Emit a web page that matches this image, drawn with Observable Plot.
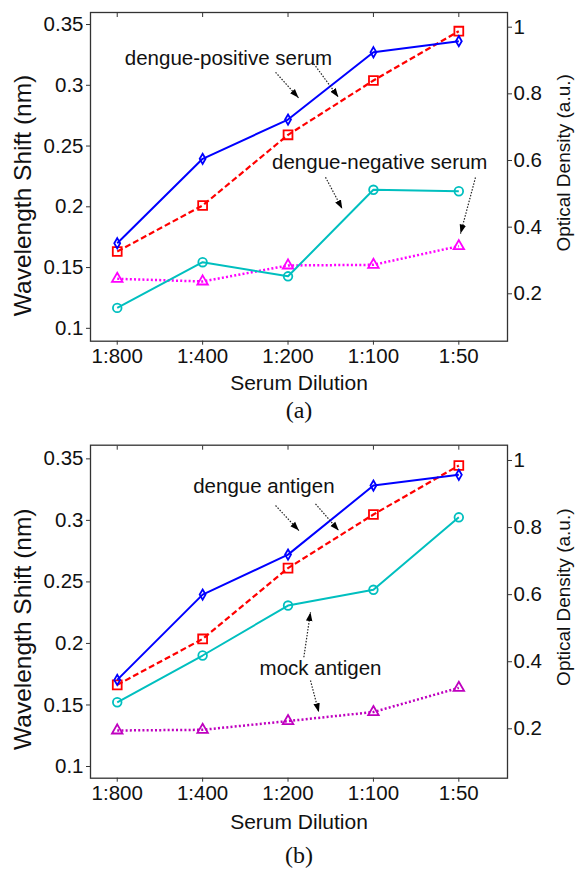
<!DOCTYPE html>
<html><head><meta charset="utf-8">
<script src="https://cdn.jsdelivr.net/npm/d3@7"></script>
<script src="https://cdn.jsdelivr.net/npm/@observablehq/plot@0.6"></script>
<style>
body{margin:0;background:#fff}
#chart svg{display:block}
</style>
</head><body><div id="chart"></div>
<script>
// ---- data ----
const dilutions = ["1:800", "1:400", "1:200", "1:100", "1:50"];
const shiftTicks = [0.1, 0.15, 0.2, 0.25, 0.3, 0.35];
const odTicks = [0.2, 0.4, 0.6, 0.8, 1];

// panel (a): serum
const aPositiveShift = [0.170, 0.2395, 0.2718, 0.3272, 0.3363];
const aNegativeShift = [0.1168, 0.1544, 0.1428, 0.2140, 0.2128];
const aPositiveOD = [0.327, 0.465, 0.677, 0.840, 0.988];
const aNegativeOD = [0.245, 0.237, 0.285, 0.287, 0.343];

// panel (b): antigen
const bDengueShift = [0.1704, 0.2397, 0.2722, 0.3283, 0.3370];
const bMockShift = [0.1522, 0.1902, 0.2308, 0.2436, 0.3025];
const bDengueOD = [0.331, 0.468, 0.679, 0.839, 0.985];
const bMockOD = [0.195, 0.197, 0.223, 0.250, 0.322];

// annotation labels
const aLabels = ["dengue-positive serum", "dengue-negative serum"];
const bLabels = ["dengue antigen", "mock antigen"];

// ---- helpers ----
const FONT = "Liberation Sans, Arial, Helvetica, sans-serif";
function filledArrow(color) {
  const ns = "http://www.w3.org/2000/svg";
  const m = document.createElementNS(ns, "marker");
  m.setAttribute("viewBox", "-10 -5 10 10");
  m.setAttribute("markerWidth", 9);
  m.setAttribute("markerHeight", 9);
  m.setAttribute("refX", 0);
  m.setAttribute("refY", 0);
  m.setAttribute("orient", "auto");
  m.setAttribute("markerUnits", "userSpaceOnUse");
  const p = document.createElementNS(ns, "path");
  p.setAttribute("d", "M-10,-3.6L0,0L-10,3.6Z");
  p.setAttribute("fill", "#000");
  p.setAttribute("stroke", "none");
  m.appendChild(p);
  return m;
}

function panel(cfg) {
  const toShift = d3.scaleLinear().domain(cfg.odDomain).range(cfg.shiftDomain);
  const odLabel = (v) => String(Math.round(toShift.invert(v) * 10) / 10);
  const mk = (arr, od) => arr.map((v, i) => ({i, v: od ? toShift(v) : v}));
  const marks = [];
  for (const s of cfg.series) {
    const data = mk(s.values, s.od);
    marks.push(Plot.line(data, {x: "i", y: "v", stroke: s.color, strokeWidth: s.width, strokeDasharray: s.dash, strokeLinecap: "butt"}));
    marks.push(Plot.dot(data, {x: "i", y: "v", symbol: s.symbol, r: s.r, stroke: s.color, fill: "none", strokeWidth: 1.8}));
  }
  marks.push(Plot.link(cfg.arrows, {x1: "x1", y1: "y1", x2: "x2", y2: "y2", stroke: "#222", strokeWidth: 1.2, strokeDasharray: "1.5,1.5", strokeLinecap: "butt", markerEnd: filledArrow}));
  marks.push(Plot.text(cfg.notes, {x: "x", y: "y", text: "label", fontSize: 20.5, fill: "#111", lineAnchor: "middle", textAnchor: "middle"}));
  marks.push(Plot.frame({stroke: "#333", strokeWidth: 1.3}));
  marks.push(Plot.axisY({ticks: shiftTicks, anchor: "left", tickSize: 4, tickPadding: 3, fontSize: 20.5, tickFormat: (d) => String(d), stroke: "#333", fill: "#111", label: null}));
  marks.push(Plot.axisY({ticks: odTicks.map((d) => toShift(d)), anchor: "right", tickSize: 4, tickPadding: 2, fontSize: 20.5, tickFormat: odLabel, stroke: "#333", fill: "#111", label: null}));
  marks.push(Plot.axisX({ticks: [0, 1, 2, 3, 4], anchor: "bottom", tickSize: 4, tickPadding: 3.5, fontSize: 20.5, tickFormat: (i) => dilutions[i], stroke: "#333", fill: "#111", label: null}));
  marks.push(Plot.axisX({ticks: [0, 1, 2, 3, 4], anchor: "top", tickSize: -4, tickPadding: 0, tickFormat: () => "", stroke: "#333", label: null}));
  marks.push(Plot.text(["Wavelength Shift (nm)"], {frameAnchor: "left", dx: -67, dy: cfg.leftLabelDy, rotate: -90, fontSize: 24.5, fill: "#111", lineAnchor: "middle", textAnchor: "middle"}));
  marks.push(Plot.text(["Optical Density (a.u.)"], {frameAnchor: "right", dx: 56, dy: cfg.rightLabelDy, rotate: -90, fontSize: 19, fill: "#111", lineAnchor: "middle", textAnchor: "middle"}));
  marks.push(Plot.text(["Serum Dilution"], {frameAnchor: "bottom", dy: cfg.xLabelDy, fontSize: 21, fill: "#111", lineAnchor: "middle", textAnchor: "middle"}));
  marks.push(Plot.text([cfg.caption], {frameAnchor: "bottom", dy: cfg.captionDy, fontSize: 24, fill: "#111", lineAnchor: "middle", textAnchor: "middle", fontFamily: "Liberation Serif, Times New Roman, serif"}));
  return Plot.plot({
    width: 575,
    height: cfg.height,
    marginLeft: 90,
    marginRight: 68,
    marginTop: cfg.marginTop,
    marginBottom: cfg.marginBottom,
    style: {fontFamily: FONT, background: "#fff", overflow: "visible"},
    x: {type: "linear", domain: [-0.313, 4.57]},
    y: {type: "linear", domain: cfg.shiftDomain},
    marks
  });
}

const chart = document.getElementById("chart");
chart.append(panel({
  height: 430, marginTop: 12, marginBottom: 89.3,
  shiftDomain: [0.0894, 0.3599], odDomain: [0.0578, 1.0441],
  series: [
    {values: aPositiveOD, od: true, color: "#ff0000", width: 2.2, dash: "6,3", symbol: "square", r: 5},
    {values: aNegativeOD, od: true, color: "#ff00ff", width: 2.5, dash: "2,2.2", symbol: "triangle", r: 3.9},
    {values: aPositiveShift, od: false, color: "#0000ff", width: 2, dash: null, symbol: "diamond", r: 3.1},
    {values: aNegativeShift, od: false, color: "#00bfbf", width: 2, dash: null, symbol: "circle", r: 4.3}
  ],
  notes: [
    {x: 1.303, y: 0.3225, label: aLabels[0]},
    {x: 3.074, y: 0.2361, label: aLabels[1]}
  ],
  arrows: [
    {x1: 1.854, y1: 0.3107, x2: 2.123, y2: 0.2897},
    {x1: 2.302, y1: 0.3177, x2: 2.590, y2: 0.2902},
    {x1: 2.439, y1: 0.2243, x2: 2.635, y2: 0.1983},
    {x1: 4.195, y1: 0.2241, x2: 4.020, y2: 0.1780}
  ],
  leftLabelDy: 18.6, rightLabelDy: -14, xLabelDy: 42, captionDy: 69, caption: "(a)"
}));
chart.append(panel({
  height: 442, marginTop: 14.7, marginBottom: 94.3,
  shiftDomain: [0.0905, 0.3611], odDomain: [0.0527, 1.0456],
  series: [
    {values: bDengueOD, od: true, color: "#ff0000", width: 2.2, dash: "6,3", symbol: "square", r: 5},
    {values: bMockOD, od: true, color: "#bf00bf", width: 2.5, dash: "2,2.2", symbol: "triangle", r: 3.9},
    {values: bDengueShift, od: false, color: "#0000ff", width: 2, dash: null, symbol: "diamond", r: 3.1},
    {values: bMockShift, od: false, color: "#00bfbf", width: 2, dash: null, symbol: "circle", r: 4.3}
  ],
  notes: [
    {x: 1.717, y: 0.3277, label: bLabels[0]},
    {x: 2.381, y: 0.1801, label: bLabels[1]}
  ],
  arrows: [
    {x1: 1.854, y1: 0.3121, x2: 2.127, y2: 0.2917},
    {x1: 2.322, y1: 0.3134, x2: 2.594, y2: 0.2917},
    {x1: 2.185, y1: 0.1888, x2: 2.263, y2: 0.2254},
    {x1: 2.263, y1: 0.1699, x2: 2.361, y2: 0.1441}
  ],
  leftLabelDy: 17.5, rightLabelDy: -14.5, xLabelDy: 44.3, captionDy: 77.3, caption: "(b)"
}));
</script>
</body></html>
